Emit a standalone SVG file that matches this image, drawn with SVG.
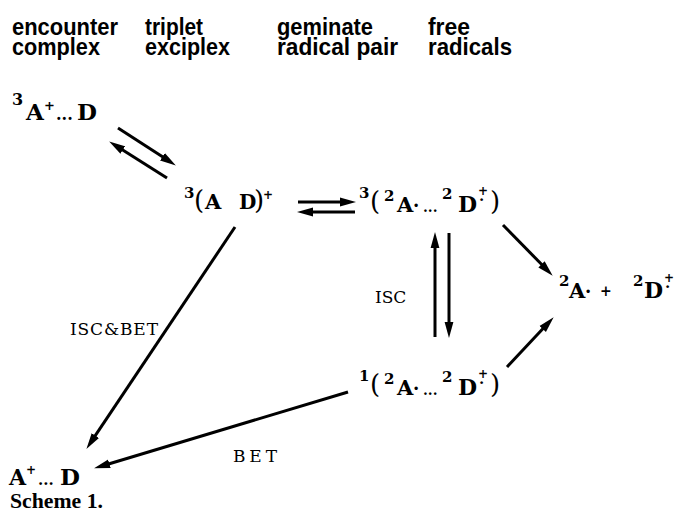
<svg xmlns="http://www.w3.org/2000/svg" width="680" height="520" viewBox="0 0 680 520">
<style>
.hd{font-family:"Liberation Sans",Arial,sans-serif;font-weight:bold;font-size:24px;fill:#000}
.m{font-family:"DejaVu Serif","Liberation Serif",serif;font-weight:bold;fill:#000}
.lb{font-family:"DejaVu Serif","Liberation Serif",serif;font-size:17px;fill:#000}
.cap{font-family:"Liberation Serif","Times New Roman",serif;font-weight:bold;font-size:20px;fill:#000}
.ar{stroke:#000;stroke-width:3;fill:none;marker-end:url(#ah)}
.sup{font-size:15px}
.par{font-size:26px;font-weight:normal}
</style>
<defs>
<marker id="ah" markerUnits="userSpaceOnUse" markerWidth="17" markerHeight="10" refX="7" refY="5" orient="auto">
<path d="M0,0.6 L16,5 L0,9.4 z" fill="#000"/>
</marker>
</defs>
<rect width="680" height="520" fill="#fff"/>

<g id="headers">
<text class="hd" x="12" y="35" textLength="106" lengthAdjust="spacingAndGlyphs">encounter</text>
<text class="hd" x="12" y="55" textLength="88" lengthAdjust="spacingAndGlyphs">complex</text>
<text class="hd" x="145" y="35" textLength="58" lengthAdjust="spacingAndGlyphs">triplet</text>
<text class="hd" x="145" y="55" textLength="85" lengthAdjust="spacingAndGlyphs">exciplex</text>
<text class="hd" x="277" y="35" textLength="96" lengthAdjust="spacingAndGlyphs">geminate</text>
<text class="hd" x="277" y="55" textLength="121" lengthAdjust="spacingAndGlyphs">radical pair</text>
<text class="hd" x="428" y="35" textLength="42" lengthAdjust="spacingAndGlyphs">free</text>
<text class="hd" x="428" y="55" textLength="84" lengthAdjust="spacingAndGlyphs">radicals</text>
</g>

<g id="connectors">
<line class="ar" x1="118" y1="128" x2="168.3" y2="160.6"/>
<line class="ar" x1="167" y1="178" x2="116.8" y2="146.3"/>
<line class="ar" x1="298" y1="202" x2="347" y2="202"/>
<line class="ar" x1="355" y1="212" x2="306" y2="212"/>
<line class="ar" x1="449" y1="233" x2="449" y2="329"/>
<line class="ar" x1="435" y1="337" x2="435" y2="241"/>
<line class="ar" x1="503" y1="225" x2="546.4" y2="269.3"/>
<line class="ar" x1="507" y1="367" x2="547.5" y2="323.8"/>
<line class="ar" x1="235" y1="227" x2="91.4" y2="441.4"/>
<line class="ar" x1="348" y1="392" x2="102.7" y2="465.7"/>
<text class="lb" x="70" y="335" textLength="88" lengthAdjust="spacing">ISC&amp;BET</text>
<text class="lb" x="375" y="303">ISC</text>
<text class="lb" x="233" y="462" textLength="44" lengthAdjust="spacing">BET</text>
</g>

<g id="encounter-triplet">
<text class="m"><tspan x="12" y="105" font-size="16">3</tspan><tspan x="26" y="120" font-size="23">A</tspan><tspan x="44" y="110" font-size="13">+</tspan><tspan x="56" y="120" font-size="16">...</tspan><tspan x="77" y="120" font-size="23">D</tspan></text>
</g>

<g id="triplet-exciplex">
<text class="m"><tspan class="sup" x="184" y="198">3</tspan><tspan class="par" x="194" y="209">(</tspan><tspan x="205" y="209" font-size="21">A</tspan><tspan x="239" y="209" font-size="20">D</tspan><tspan class="par" x="254" y="209">)</tspan><tspan x="263" y="199" font-size="12">+</tspan></text>
</g>

<g id="triplet-radical-pair">
<text class="m"><tspan class="sup" x="359" y="198">3</tspan><tspan class="par" x="370" y="210">(</tspan><tspan class="sup" x="384" y="201">2</tspan><tspan x="397" y="212" font-size="21">A</tspan><tspan x="413" y="212" font-size="18">·</tspan><tspan x="423" y="212" font-size="14">...</tspan><tspan class="sup" x="442" y="199">2</tspan><tspan x="458" y="212" font-size="22">D</tspan><tspan x="478" y="195" font-size="12">+</tspan><tspan x="479" y="205" font-size="15">·</tspan><tspan class="par" x="490" y="210">)</tspan></text>
</g>

<g id="singlet-radical-pair">
<text class="m"><tspan class="sup" x="359" y="381">1</tspan><tspan class="par" x="370" y="393">(</tspan><tspan class="sup" x="384" y="384">2</tspan><tspan x="397" y="395" font-size="21">A</tspan><tspan x="413" y="395" font-size="18">·</tspan><tspan x="423" y="395" font-size="14">...</tspan><tspan class="sup" x="442" y="382">2</tspan><tspan x="458" y="395" font-size="22">D</tspan><tspan x="478" y="378" font-size="12">+</tspan><tspan x="479" y="388" font-size="15">·</tspan><tspan class="par" x="490" y="393">)</tspan></text>
</g>

<g id="free-radicals">
<text class="m"><tspan class="sup" x="559" y="286">2</tspan><tspan x="569" y="298" font-size="21">A</tspan><tspan x="585" y="298" font-size="18">·</tspan><tspan x="600" y="296" font-size="14">+</tspan><tspan class="sup" x="633" y="286">2</tspan><tspan x="644" y="298" font-size="22">D</tspan><tspan x="664" y="282" font-size="12">+</tspan><tspan x="665" y="292" font-size="15">·</tspan></text>
</g>

<g id="contact-pair">
<text class="m"><tspan x="9" y="485" font-size="22">A</tspan><tspan x="26" y="474" font-size="12">+</tspan><tspan x="38" y="485" font-size="15">...</tspan><tspan x="60" y="485" font-size="23">D</tspan></text>
</g>

<text class="cap" x="10" y="508" textLength="93" lengthAdjust="spacingAndGlyphs">Scheme 1.</text>
</svg>
